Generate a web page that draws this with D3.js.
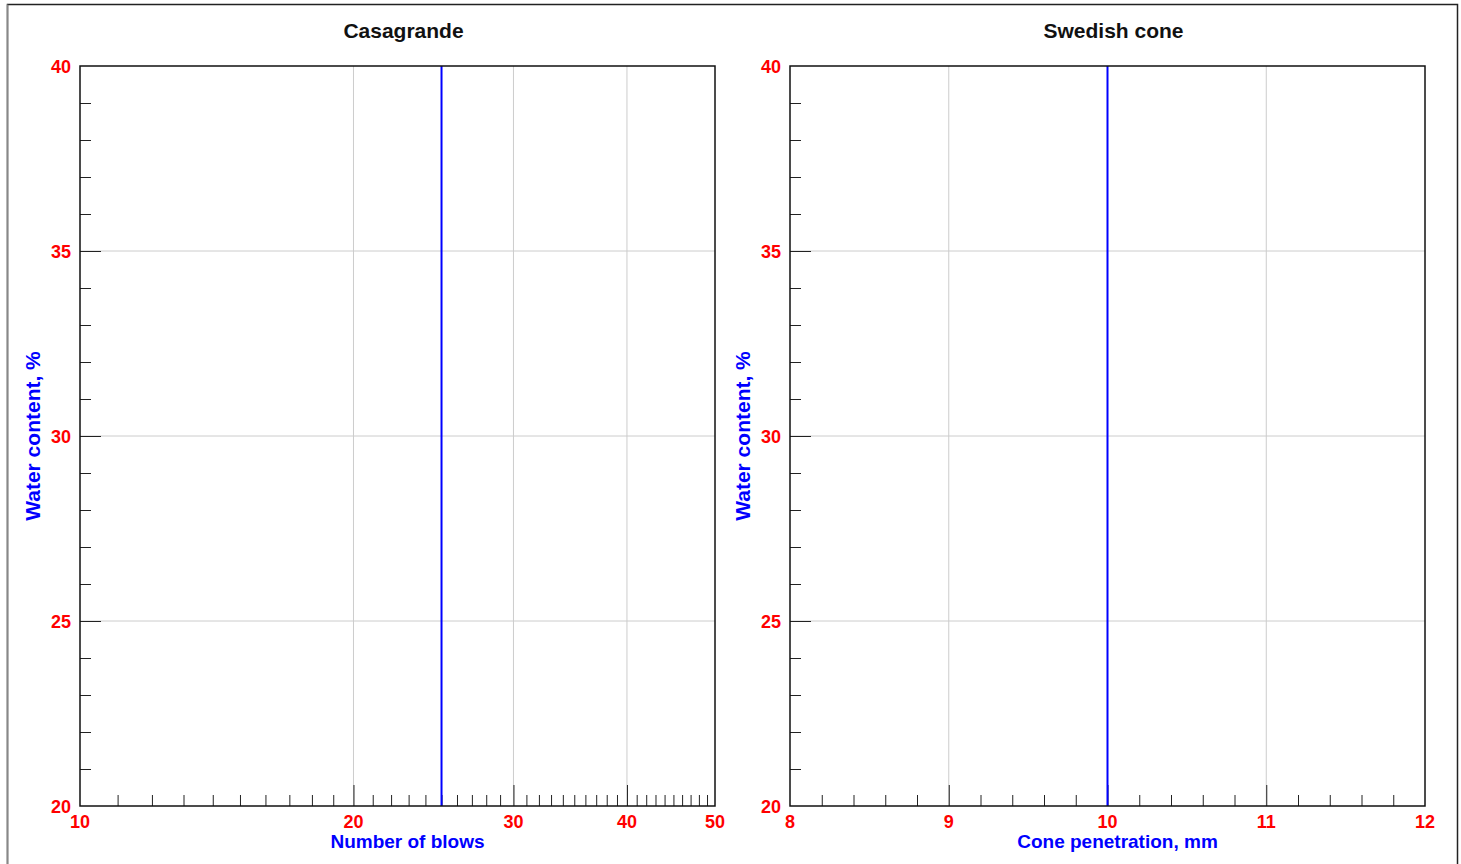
<!DOCTYPE html>
<html>
<head>
<meta charset="utf-8">
<script src="https://cdn.jsdelivr.net/npm/d3@7"></script>
<style>
  body { margin: 0; background: #fff; }
  svg { display: block; font-family: "Liberation Sans", Arial, sans-serif; }
</style>
</head>
<body>
<svg id="chart" width="1461" height="864"></svg>
<script>
// panel data
const panelTitles = ["Casagrande", "Swedish cone"];
const xLabels = ["Number of blows", "Cone penetration, mm"];
const yLabel = "Water content, %";
const yDomain = [20, 40];
const yTicks = [20, 25, 30, 35, 40];
const blowsDomain = [10, 50];
const blowsTicks = [10, 20, 30, 40, 50];
const coneDomain = [8, 12];
const coneTicks = [8, 9, 10, 11, 12];
const blowsLine = [25];   // limit at 25 blows
const coneLine = [10];    // limit at 10 mm

const svg = d3.select("#chart");

// outer frame
svg.append("rect").attr("x", 7.5).attr("y", 4.5).attr("width", 1450).attr("height", 870)
  .attr("fill", "none").attr("stroke", "#222").attr("stroke-width", 1.5);
svg.append("line").attr("x1", 7.5).attr("x2", 7.5).attr("y1", 4.5).attr("y2", 870)
  .attr("stroke", "#888").attr("stroke-width", 1.5);

const plotTop = 66, plotBottom = 806;
const y = d3.scaleLinear().domain(yDomain).range([plotBottom, plotTop]);
const yMinor = d3.range(yDomain[0], yDomain[1] + 1, 1).filter(v => !yTicks.includes(v));

function drawPanel(left, right, x, majors, minors, title, xLab, lineVals) {
  const g = svg.append("g");
  // grid
  g.selectAll(".gx").data(majors.slice(1, -1)).join("line")
    .attr("x1", d => x(d)).attr("x2", d => x(d)).attr("y1", plotTop).attr("y2", plotBottom)
    .attr("stroke", "#cccccc").attr("stroke-width", 1);
  g.selectAll(".gy").data(yTicks.slice(1, -1)).join("line")
    .attr("x1", left).attr("x2", right).attr("y1", d => y(d)).attr("y2", d => y(d))
    .attr("stroke", "#cccccc").attr("stroke-width", 1);

  // x ticks (inside, from bottom)
  const xAx = g.append("g").attr("transform", `translate(0,${plotBottom})`);
  xAx.call(d3.axisTop(x).tickValues(minors).tickSize(11).tickFormat(""));
  xAx.append("g").call(d3.axisTop(x).tickValues(majors.slice(1, -1)).tickSize(21).tickFormat(""));
  xAx.selectAll(".domain").remove();
  xAx.selectAll("line").attr("stroke", "#222");

  // y ticks (inside, from left)
  const yAx = g.append("g").attr("transform", `translate(${left},0)`);
  yAx.call(d3.axisRight(y).tickValues(yMinor).tickSize(11).tickFormat(""));
  yAx.append("g").call(d3.axisRight(y).tickValues(yTicks.slice(1, -1)).tickSize(21).tickFormat(""));
  yAx.selectAll(".domain").remove();
  yAx.selectAll("line").attr("stroke", "#222");

  // tick labels
  g.selectAll(".xl").data(majors).join("text")
    .attr("x", d => x(d)).attr("y", plotBottom + 22)
    .attr("text-anchor", "middle").attr("fill", "#ff0000")
    .attr("font-size", 18).attr("font-weight", "bold").text(d => d);
  g.selectAll(".yl").data(yTicks).join("text")
    .attr("x", left - 9).attr("y", d => y(d) + 6.5)
    .attr("text-anchor", "end").attr("fill", "#ff0000")
    .attr("font-size", 18).attr("font-weight", "bold").text(d => d);

  // limit line
  g.selectAll(".lim").data(lineVals).join("line")
    .attr("x1", d => x(d)).attr("x2", d => x(d)).attr("y1", plotTop).attr("y2", plotBottom)
    .attr("stroke", "#0000ff").attr("stroke-width", 2);

  // frame
  g.append("rect").attr("x", left).attr("y", plotTop).attr("width", right - left).attr("height", plotBottom - plotTop)
    .attr("fill", "none").attr("stroke", "#111").attr("stroke-width", 1.5);

  // titles
  g.append("text").attr("x", (left + right) / 2 + 6).attr("y", 38)
    .attr("text-anchor", "middle").attr("font-size", 21).attr("font-weight", "bold")
    .attr("fill", "#111").text(title);
  g.append("text").attr("x", (left + right) / 2 + 10).attr("y", 848)
    .attr("text-anchor", "middle").attr("font-size", 19).attr("font-weight", "bold")
    .attr("fill", "#0000ff").text(xLab);
  g.append("text").attr("transform", `translate(${left - 40},${(plotTop + plotBottom) / 2}) rotate(-90)`)
    .attr("text-anchor", "middle").attr("font-size", 21).attr("font-weight", "bold")
    .attr("fill", "#0000ff").text(yLabel);
}

// left: log scale of blows
const xBlows = d3.scaleLog().domain(blowsDomain).range([80, 715]);
const blowsMinor = d3.range(11, 50).filter(v => v % 10 !== 0);
drawPanel(80, 715, xBlows, blowsTicks, blowsMinor, panelTitles[0], xLabels[0], blowsLine);

// right: linear cone penetration
const xCone = d3.scaleLinear().domain(coneDomain).range([790, 1425]);
const coneMinor = d3.range(8.2, 12, 0.2).map(v => +v.toFixed(1)).filter(v => Math.abs(v - Math.round(v)) > 0.01);
drawPanel(790, 1425, xCone, coneTicks, coneMinor, panelTitles[1], xLabels[1], coneLine);
</script>
</body>
</html>
